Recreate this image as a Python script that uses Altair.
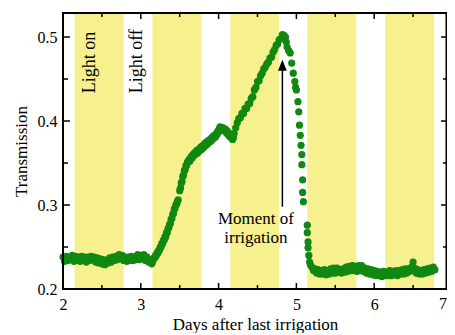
import altair as alt
import pandas as pd

# ---------------- data ----------------
x_flat1 = [2.00, 2.02, 2.04, 2.06, 2.08, 2.10, 2.12, 2.14, 2.16, 2.18,
           2.20, 2.22, 2.24, 2.26, 2.28, 2.30, 2.32, 2.34, 2.36, 2.38,
           2.40, 2.42, 2.44, 2.46, 2.48, 2.50, 2.52, 2.54, 2.56, 2.58,
           2.60, 2.62, 2.64, 2.66, 2.68, 2.70, 2.72, 2.74, 2.76, 2.78,
           2.80, 2.82, 2.84, 2.86, 2.88, 2.90, 2.92, 2.94, 2.96, 2.98,
           3.00, 3.02, 3.04, 3.06, 3.08, 3.10, 3.12, 3.14]
y_flat1 = [0.238, 0.233, 0.239, 0.234, 0.238, 0.235, 0.240, 0.233, 0.239, 0.234,
           0.238, 0.233, 0.239, 0.235, 0.238, 0.232, 0.238, 0.234, 0.239, 0.235,
           0.238, 0.232, 0.237, 0.231, 0.236, 0.230, 0.235, 0.229, 0.234, 0.231,
           0.237, 0.232, 0.238, 0.234, 0.239, 0.235, 0.241, 0.236, 0.240, 0.234,
           0.238, 0.233, 0.238, 0.234, 0.239, 0.234, 0.238, 0.235, 0.241, 0.235,
           0.240, 0.236, 0.241, 0.234, 0.238, 0.232, 0.234, 0.230]

x_rise_a = [3.15, 3.16, 3.17, 3.18, 3.19, 3.20, 3.21, 3.22, 3.23, 3.24,
            3.25, 3.26, 3.27, 3.28, 3.29, 3.30, 3.31, 3.32, 3.33, 3.34,
            3.35, 3.36, 3.37, 3.38, 3.39, 3.40, 3.41, 3.42, 3.43, 3.44,
            3.45, 3.46, 3.47, 3.48, 3.50, 3.51, 3.52, 3.53, 3.54, 3.55,
            3.56, 3.57, 3.58, 3.59, 3.60]
y_rise_a = [0.232, 0.235, 0.237, 0.237, 0.240, 0.240, 0.243, 0.243, 0.246, 0.246,
            0.250, 0.250, 0.254, 0.254, 0.258, 0.258, 0.262, 0.262, 0.267, 0.267,
            0.272, 0.273, 0.277, 0.278, 0.283, 0.284, 0.289, 0.290, 0.295, 0.296,
            0.300, 0.301, 0.304, 0.306, 0.317, 0.320, 0.326, 0.328, 0.334, 0.336,
            0.341, 0.342, 0.347, 0.347, 0.351]

x_rise_b = [3.61, 3.62, 3.63, 3.64, 3.65, 3.66, 3.67, 3.68, 3.69, 3.70,
            3.71, 3.72, 3.73, 3.74, 3.75, 3.76, 3.77, 3.78, 3.79, 3.80,
            3.81, 3.82, 3.83, 3.84, 3.85, 3.86, 3.87, 3.88, 3.89, 3.90,
            3.91, 3.92, 3.93, 3.94, 3.95, 3.96, 3.97, 3.98, 3.99, 4.00,
            4.01, 4.02, 4.03, 4.04, 4.05, 4.06, 4.07, 4.08, 4.09, 4.10,
            4.11, 4.12, 4.13, 4.14, 4.15, 4.16, 4.17, 4.18, 4.19, 4.20]
y_rise_b = [0.352, 0.354, 0.352, 0.356, 0.358, 0.356, 0.360, 0.359, 0.362, 0.360,
            0.363, 0.365, 0.362, 0.366, 0.364, 0.367, 0.369, 0.366, 0.370, 0.368,
            0.372, 0.370, 0.374, 0.371, 0.375, 0.373, 0.377, 0.375, 0.378, 0.376,
            0.380, 0.378, 0.382, 0.380, 0.383, 0.381, 0.385, 0.384, 0.388, 0.387,
            0.391, 0.393, 0.390, 0.392, 0.389, 0.392, 0.390, 0.388, 0.390, 0.386,
            0.388, 0.384, 0.386, 0.382, 0.384, 0.380, 0.382, 0.378, 0.380, 0.385]

x_rise_c = [4.22, 4.24, 4.26, 4.28, 4.30, 4.32, 4.34, 4.36, 4.38, 4.40,
            4.42, 4.44, 4.46, 4.48, 4.50, 4.52, 4.54, 4.56, 4.58, 4.60,
            4.62, 4.64, 4.66, 4.68, 4.70, 4.72, 4.74, 4.76, 4.78, 4.80,
            4.82, 4.84]
y_rise_c = [0.392, 0.398, 0.403, 0.404, 0.409, 0.409, 0.415, 0.415, 0.420, 0.421,
            0.427, 0.429, 0.437, 0.440, 0.447, 0.448, 0.454, 0.457, 0.462, 0.464,
            0.468, 0.470, 0.475, 0.476, 0.482, 0.485, 0.490, 0.492, 0.497, 0.498,
            0.503, 0.502]

x_drop = [4.86, 4.87, 4.88, 4.90, 4.92, 4.94, 4.96, 4.98, 4.99, 5.00,
          5.02, 5.03, 5.04, 5.05, 5.06, 5.07, 5.07, 5.08, 5.08, 5.09,
          5.14, 5.14, 5.15, 5.15, 5.16, 5.17, 5.18]
y_drop = [0.500, 0.494, 0.488, 0.484, 0.481, 0.469, 0.457, 0.447, 0.440, 0.437,
          0.423, 0.411, 0.395, 0.383, 0.371, 0.360, 0.348, 0.330, 0.315, 0.304,
          0.276, 0.267, 0.256, 0.249, 0.240, 0.232, 0.229]

x_flat2 = [5.20, 5.22, 5.24, 5.26, 5.28, 5.30, 5.32, 5.34, 5.36, 5.38,
           5.40, 5.42, 5.44, 5.46, 5.48, 5.50, 5.52, 5.54, 5.56, 5.58,
           5.60, 5.62, 5.64, 5.66, 5.68, 5.70, 5.72, 5.74, 5.76, 5.78,
           5.80, 5.82, 5.84, 5.86, 5.88, 5.90, 5.92, 5.94, 5.96, 5.98,
           6.00, 6.02, 6.04, 6.06, 6.08, 6.10, 6.12, 6.14, 6.16, 6.18,
           6.20, 6.22, 6.24, 6.26, 6.28, 6.30, 6.32, 6.34, 6.36, 6.38,
           6.40, 6.42, 6.44, 6.46, 6.48, 6.50, 6.52, 6.54, 6.56, 6.58,
           6.60, 6.62, 6.64, 6.66, 6.68, 6.70, 6.72, 6.74, 6.76, 6.78]
y_flat2 = [0.226, 0.222, 0.224, 0.219, 0.223, 0.218, 0.222, 0.218, 0.223, 0.217,
           0.222, 0.218, 0.224, 0.219, 0.225, 0.219, 0.225, 0.220, 0.223, 0.219,
           0.224, 0.220, 0.226, 0.221, 0.227, 0.222, 0.228, 0.222, 0.227, 0.221,
           0.228, 0.222, 0.228, 0.221, 0.225, 0.219, 0.224, 0.218, 0.223, 0.217,
           0.222, 0.216, 0.221, 0.216, 0.220, 0.215, 0.221, 0.216, 0.220, 0.216,
           0.222, 0.216, 0.221, 0.217, 0.222, 0.216, 0.222, 0.218, 0.223, 0.218,
           0.224, 0.219, 0.224, 0.221, 0.226, 0.232, 0.225, 0.219, 0.223, 0.218,
           0.222, 0.218, 0.223, 0.219, 0.224, 0.220, 0.225, 0.221, 0.226, 0.223]

band_start = [2.15, 3.15, 4.15, 5.14, 6.14]
band_end = [2.78, 3.78, 4.78, 5.77, 6.77]

x_major = [2, 3, 4, 5, 6]
x_minor = [2.5, 3.5, 4.5, 5.5, 6.5]
y_major = [0.2, 0.3, 0.4, 0.5]
y_minor = [0.25, 0.35, 0.45]

light_labels = ["Light on", "Light off"]
light_x = [2.347, 2.951]
light_y = [0.433, 0.433]

note_lines = ["Moment of", "irrigation"]
note_x = [4.48, 4.48]
note_y = [0.2833, 0.2607]

arrow_x = 4.82
arrow_y0 = 0.298
arrow_y1 = 0.462
arrow_tip_center = 0.4665

# ---------------- chart ----------------
W, H = 384, 276
FONT = "Liberation Serif"
GREEN = "#118811"
YELLOW = "#f6f08e"

xs = alt.Scale(domain=[2, 6.936], nice=False, zero=False)
ys = alt.Scale(domain=[0.2, 0.5286], nice=False, zero=False)

x_axis = alt.Axis(values=x_major, ticks=False, domain=False, grid=False,
                  labelFlush=False, labelPadding=7,
                  title="Days after last irrigation", titlePadding=4)
y_axis = alt.Axis(values=y_major, format=".1f", ticks=False, domain=False,
                  grid=False, labelPadding=6,
                  title="Transmission", titlePadding=7)


def X(field):
    return alt.X(field, scale=xs, axis=x_axis)


def Y(field):
    return alt.Y(field, scale=ys, axis=y_axis)


pts = pd.DataFrame({
    "x": x_flat1 + x_rise_a + x_rise_b + x_rise_c + x_drop + x_flat2,
    "y": y_flat1 + y_rise_a + y_rise_b + y_rise_c + y_drop + y_flat2,
})
bands = pd.DataFrame({"start": band_start, "end": band_end})

band_layer = alt.Chart(bands).mark_rect(color=YELLOW).encode(
    x=X("start:Q"), x2="end:Q", y=alt.value(0), y2=alt.value(H))

point_layer = alt.Chart(pts).mark_circle(size=52, color=GREEN, opacity=1).encode(
    x=X("x:Q"), y=Y("y:Q"))


def xticks(vals, y0, y1):
    return alt.Chart(pd.DataFrame({"v": vals})).mark_rule(color="black", strokeWidth=1.5).encode(
        x=X("v:Q"), y=alt.value(y0), y2=alt.value(y1))


def yticks(vals, x0, x1):
    return alt.Chart(pd.DataFrame({"v": vals})).mark_rule(color="black", strokeWidth=1.5).encode(
        y=Y("v:Q"), x=alt.value(x0), x2=alt.value(x1))


tick_layers = [
    xticks(x_major, H, H - 6), xticks(x_minor, H, H - 4),
    xticks(x_major, 0, 6), xticks(x_minor, 0, 4),
    yticks(y_major, 0, 7), yticks(y_minor, 0, 5),
    yticks(y_major, W, W - 6), yticks(y_minor, W, W - 4),
]

frame = alt.Chart(pd.DataFrame({"a": [0]})).mark_rect(
    fillOpacity=0, stroke="black", strokeWidth=2).encode(
    x=alt.value(0), x2=alt.value(W - 0.5), y=alt.value(0), y2=alt.value(H))

seven = alt.Chart(pd.DataFrame({"x": [7], "t": ["7"]})).mark_text(
    font=FONT, fontSize=16, baseline="top", align="right", dx=-5, dy=7).encode(
    x=X("x:Q"), y=alt.value(H), text="t:N")

light = alt.Chart(pd.DataFrame({"x": light_x, "y": light_y, "t": light_labels})).mark_text(
    font=FONT, fontSize=18, angle=270, align="left", baseline="middle", color="black").encode(
    x=X("x:Q"), y=Y("y:Q"), text="t:N")

note = alt.Chart(pd.DataFrame({"x": note_x, "y": note_y, "t": note_lines})).mark_text(
    font=FONT, fontSize=17, align="center", baseline="middle", color="black").encode(
    x=X("x:Q"), y=Y("y:Q"), text="t:N")

arrow_line = alt.Chart(pd.DataFrame({"x": [arrow_x], "y": [arrow_y0], "y2": [arrow_y1]})).mark_rule(
    color="black", strokeWidth=1.5).encode(
    x=X("x:Q"), y=Y("y:Q"), y2="y2:Q")

arrow_head = alt.Chart(pd.DataFrame({"x": [arrow_x], "y": [arrow_tip_center]})).mark_point(
    shape="M0,-1L-0.8,1L0.8,1Z", filled=True, size=121, color="black", opacity=1).encode(
    x=X("x:Q"), y=Y("y:Q"))

chart = alt.layer(
    band_layer, point_layer, *tick_layers, frame, seven, light, note, arrow_line, arrow_head
).properties(
    width=W, height=H,
    background="white",
    autosize=alt.AutoSizeParams(type="none"),
    padding={"left": 55, "top": 5, "right": 0, "bottom": 44},
).configure_view(stroke=None).configure_axis(
    labelFont=FONT, labelFontSize=16, labelColor="black",
    titleFont=FONT, titleFontSize=17, titleFontWeight="normal", titleColor="black",
)

chart.save("out.html", embed_options={"renderer": "svg", "actions": False})
